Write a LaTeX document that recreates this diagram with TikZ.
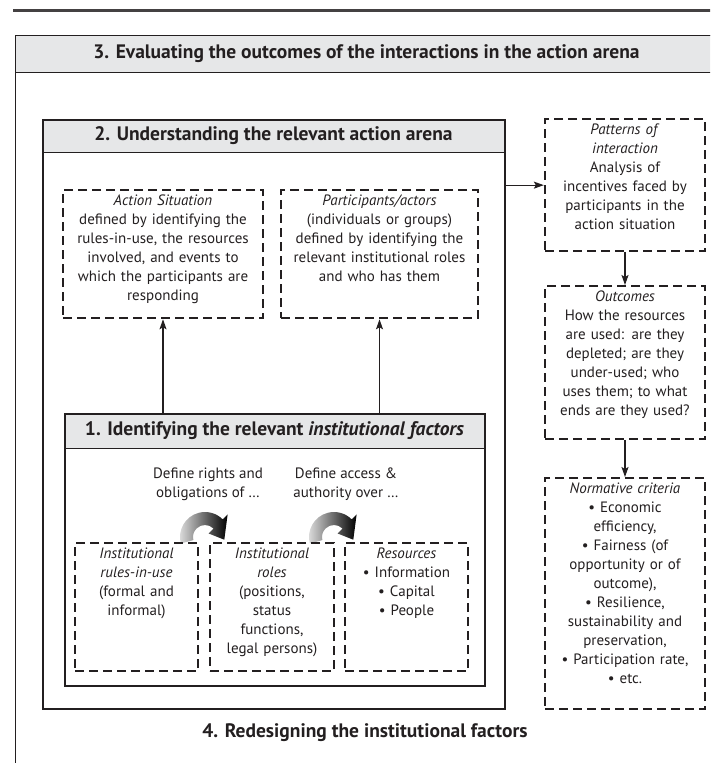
\documentclass[tikz,border=0pt]{standalone}
\usepackage{fontspec}
\setmainfont{PT Sans}
\definecolor{iaink}{HTML}{231F20}
\definecolor{iaband}{HTML}{E6E7E8}
\usetikzlibrary{arrows.meta}

\begin{document}
\begin{tikzpicture}[x=1pt,y=-1pt,
    txt/.style={font=\fontsize{15}{19}\selectfont,text=iaink},
    dbox/.style={draw=iaink,line width=2.3pt,dash pattern=on 9pt off 5pt,align=center,anchor=north,
      inner xsep=3pt,inner ysep=4pt,text height=11pt,txt},
    band/.style={draw=iaink,line width=1pt,fill=iaband,anchor=north west,inner sep=0pt,
      font=\fontsize{19.5}{22}\selectfont\bfseries,text=iaink},
    frame/.style={draw=iaink,anchor=north west,inner sep=0pt},
    head/.style={font=\fontsize{19.5}{22}\selectfont\bfseries,text=iaink},
    arr/.style={-{Stealth[length=10pt,width=7pt,inset=2pt]},iaink,line width=1.2pt},
    turnarrow/.pic={
      \shade[left color=black!10,right color=black,yscale=-1]
        (195:25) arc[start angle=195,end angle=45,radius=25] -- (45:32) -- (-8:19.5)
        -- (45:5) -- (45:12) arc[start angle=45,end angle=195,radius=12] -- cycle;}]
  \useasboundingbox (0,0) rectangle (710,763);
  \clip (0,0) rectangle (710,763);
  % outer frame (3) and rule
  \draw[iaink!85,line width=3pt] (13,10) -- (715,10);
  \node[band,minimum width=702pt,minimum height=37pt] (evalhead) at (15,35)
    {3. Evaluating the outcomes of the interactions in the action arena};
  \draw[iaink,line width=1pt] (15,780) -- (15,35) -- (717,35) -- (717,780);
  % action arena (2)
  \node[band,minimum width=462pt,minimum height=33pt] (arenahead) at (42,119)
    {2. Understanding the relevant action arena};
  \node[frame,line width=1.6pt,minimum width=462pt,minimum height=589pt] (arena) at (42,119) {};
  \node[dbox,text width=194pt,text depth=109pt] (sit) at (163,189)
    {\textit{Action Situation}\\defined by identifying the\\rules-in-use, the resources\\
     involved, and events to\\which the participants are\\responding};
  \node[dbox,text width=191pt,text depth=109pt] (part) at (379.5,189)
    {\textit{Participants/actors}\\(individuals or groups)\\defined by identifying the\\
     relevant institutional roles\\and who has them};
  % institutional factors (1)
  \node[band,minimum width=420pt,minimum height=35pt] (insthead) at (64,413)
    {1. Identifying the relevant \textit{institutional factors}};
  \node[frame,line width=1.6pt,minimum width=420pt,minimum height=272pt] (inst) at (64,413) {};
  \node[txt,align=center] (defrights) at (208,484) {Define rights and\\obligations of …};
  \node[txt,align=center] (defaccess) at (346,484) {Define access \&\\authority over …};
  \pic (turnA) at (205,537) {turnarrow};
  \pic (turnB) at (334,537) {turnarrow};
  \node[dbox,text width=117pt,text depth=109pt] (rules) at (136.5,542)
    {\textit{Institutional}\\\textit{rules-in-use}\\(formal and\\informal)};
  \node[dbox,text width=118pt,text depth=109pt] (roles) at (272,542)
    {\textit{Institutional}\\\textit{roles}\\(positions,\\status\\functions,\\legal persons)};
  \node[dbox,text width=117pt,text depth=109pt] (res) at (406.5,542)
    {\textit{Resources}\\\textbullet{} Information\\\textbullet{} Capital\\\textbullet{} People};
  % right column
  \node[dbox,text width=154pt,text depth=113pt] (pat) at (625,118)
    {\textit{Patterns of}\\\textit{interaction}\\Analysis of\\incentives faced by\\
     participants in the\\action situation};
  \node[dbox,text width=154pt,text depth=134pt] (out) at (625,285)
    {\textit{Outcomes}\\How the resources\\are used: are they\\depleted; are they\\
     under-used; who\\uses them; to what\\ends are they used?};
  \node[dbox,text width=154pt,text depth=212pt] (norm) at (625,477)
    {\textit{Normative criteria}\\\textbullet{} Economic\\efficiency,\\\textbullet{} Fairness (of\\
     opportunity or of\\outcome),\\\textbullet{} Resilience,\\sustainability and\\
     preservation,\\\textbullet{} Participation rate,\\\textbullet{} etc.};
  \node[head] (redesign) at (365,733) {4. Redesigning the institutional factors};
  % connectors
  \draw[arr] (sit.south |- inst.north) -- (sit.south);
  \draw[arr] (part.south |- inst.north) -- (part.south);
  \draw[arr] (pat.west -| arena.east) -- (pat.west);
  \draw[arr] (pat) -- (out);
  \draw[arr] (out) -- (norm);
\end{tikzpicture}
\end{document}
